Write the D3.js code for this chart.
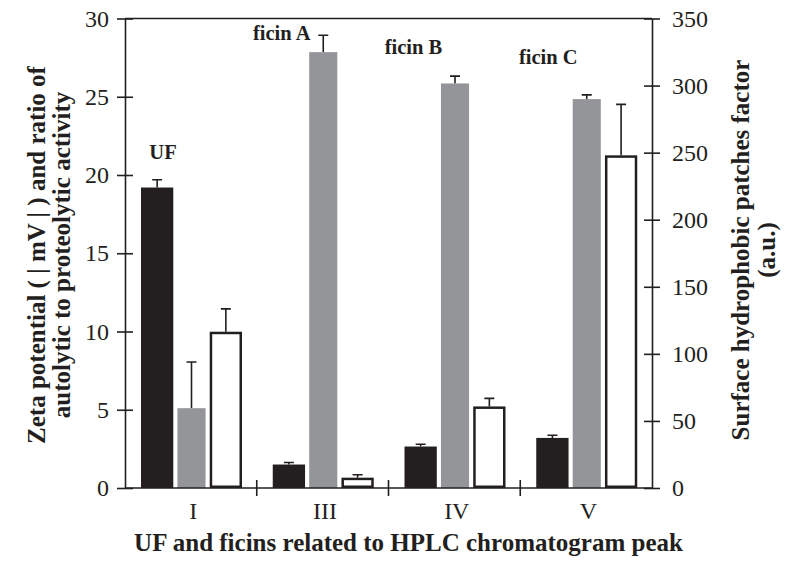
<!DOCTYPE html>
<html>
<head>
<meta charset="utf-8">
<script src="https://cdn.jsdelivr.net/npm/d3@7"></script>
<style>
  body { margin: 0; background: #fff; }
  svg { display: block; font-family: "Liberation Serif", "Times New Roman", serif; }
  .axis path, .axis line { stroke: #231f20; stroke-width: 1.6px; }
  .axis text { font-family: "Liberation Serif", "Times New Roman", serif; font-size: 24px; fill: #231f20; }
  .title { font-size: 25px; font-weight: bold; fill: #231f20; }
  .note { font-size: 20.5px; font-weight: bold; fill: #231f20; }
</style>
</head>
<body>
<svg width="785" height="573"></svg>
<script>
// HPLC peaks and the name written over each group
const peaks = ['I', 'III', 'IV', 'V'];
const peakNames = ['UF', 'ficin A', 'ficin B', 'ficin C'];
const nameLevel = [21.0, 28.65, 27.75, 27.1]; // left axis units

// black: zeta potential (|mV|), left axis
const zeta = [19.2, 1.5, 2.65, 3.2];
const zetaErr = [0.5, 0.13, 0.15, 0.17];
// gray: ratio of autolytic to proteolytic activity, left axis
const ratio = [5.1, 27.85, 25.85, 24.85];
const ratioErr = [2.95, 1.08, 0.47, 0.27];
// white: surface hydrophobic patches factor, right axis
const hydro = [116.5, 7.7, 60.8, 248];
const hydroErr = [17, 2.2, 6, 38];

const leftTicks = [0, 5, 10, 15, 20, 25, 30];
const rightTicks = [0, 50, 100, 150, 200, 250, 300, 350];

const pl = 125, pr = 652, pt = 18.5, pb = 488;

const svg = d3.select('svg');

const x = d3.scaleBand().domain(peaks).range([pl, pr]).padding(0);
const sub = d3.scaleBand()
  .domain(['zeta', 'ratio', 'hydro'])
  .range([16, 117])
  .paddingInner(0.06);
const yL = d3.scaleLinear().domain([0, 30]).range([pb, pt]);
const yR = d3.scaleLinear().domain([0, 350]).range([pb, pt]);

const series = [
  {key: 'zeta', vals: zeta, err: zetaErr, y: yL, fill: '#231f20', stroke: 'none', w: 1},
  {key: 'ratio', vals: ratio, err: ratioErr, y: yL, fill: '#939598', stroke: 'none', w: 0.87},
  {key: 'hydro', vals: hydro, err: hydroErr, y: yR, fill: '#fff', stroke: '#231f20', w: 1}
];

series.forEach(s => {
  const bw = sub.bandwidth() * s.w;
  const sw = s.stroke === 'none' ? 0 : 2.5;
  const cx = p => x(p) + sub(s.key) + sub.bandwidth() / 2;
  const g = svg.append('g');

  // error bars (upper half only)
  g.selectAll('.eb')
    .data(peaks)
    .enter()
    .append('path')
    .attr('d', (p, i) => {
      const y0 = s.y(s.vals[i]), y1 = s.y(s.vals[i] + s.err[i]);
      return `M${cx(p)},${y0}V${y1}M${cx(p) - 5},${y1}H${cx(p) + 5}`;
    })
    .attr('stroke', '#231f20')
    .attr('stroke-width', 1.6)
    .attr('fill', 'none');

  g.selectAll('rect')
    .data(peaks)
    .enter()
    .append('rect')
    .attr('x', p => cx(p) - bw / 2 + sw / 2)
    .attr('width', bw - sw)
    .attr('y', (p, i) => s.y(s.vals[i]) + sw / 2)
    .attr('height', (p, i) => Math.max(0, pb - s.y(s.vals[i]) - sw))
    .attr('fill', s.fill)
    .attr('stroke', s.stroke)
    .attr('stroke-width', sw);
});

// axes
svg.append('g')
  .attr('class', 'axis')
  .attr('transform', `translate(${pl},0)`)
  .call(d3.axisLeft(yL).tickValues(leftTicks).tickSizeInner(8).tickSizeOuter(0).tickPadding(8))
  .call(g => g.selectAll('.tick line').attr('x2', 8).attr('x1', -8));

svg.append('g')
  .attr('class', 'axis')
  .attr('transform', `translate(${pr},0)`)
  .call(d3.axisRight(yR).tickValues(rightTicks).tickSizeInner(8).tickSizeOuter(0).tickPadding(12))
  .call(g => g.selectAll('.tick line').attr('x1', -8).attr('x2', 8));

svg.append('g')
  .attr('class', 'axis')
  .attr('transform', `translate(0,${pb})`)
  .call(d3.axisBottom(x).tickSize(0).tickPadding(14))
  .call(g => g.select('.domain').attr('d', `M${pl},0H${pr}`))
  .call(g => g.selectAll('.tick text').attr('dx', '0.1em'));

// group boundary ticks on the x axis
svg.append('g')
  .selectAll('line')
  .data(peaks.slice(1))
  .enter()
  .append('line')
  .attr('x1', p => x(p)).attr('x2', p => x(p))
  .attr('y1', pb - 8).attr('y2', pb + 8)
  .attr('stroke', '#231f20').attr('stroke-width', 1.6);

// frame top
svg.append('line')
  .attr('x1', pl).attr('x2', pr)
  .attr('y1', pt).attr('y2', pt)
  .attr('stroke', '#231f20').attr('stroke-width', 1.6);

// group names
const nameOffset = [38, 25, 25, 28];
svg.append('g')
  .selectAll('text')
  .data(peaks)
  .enter()
  .append('text')
  .attr('class', 'note')
  .attr('text-anchor', 'middle')
  .attr('x', (p, i) => x(p) + nameOffset[i])
  .attr('y', (p, i) => yL(nameLevel[i]))
  .text((p, i) => peakNames[i]);

// titles
svg.append('text')
  .attr('class', 'title')
  .attr('text-anchor', 'middle')
  .attr('x', (pl + pr) / 2 + 20)
  .attr('y', 551)
  .text('UF and ficins related to HPLC chromatogram peak');

const lt = svg.append('text')
  .attr('class', 'title')
  .attr('text-anchor', 'middle')
  .attr('transform', 'translate(45,255) rotate(-90)');
lt.append('tspan').attr('x', 0).attr('y', 0).text('Zeta potential ( | mV | ) and ratio of');
lt.append('tspan').attr('x', 0).attr('y', 25).text('autolytic to proteolytic activity');

const rt = svg.append('text')
  .attr('class', 'title')
  .attr('text-anchor', 'middle')
  .attr('transform', 'translate(749,250) rotate(-90)');
rt.append('tspan').attr('x', 0).attr('y', 0).text('Surface hydrophobic patches factor');
rt.append('tspan').attr('x', 0).attr('y', 26).text('(a.u.)');
</script>
</body>
</html>
